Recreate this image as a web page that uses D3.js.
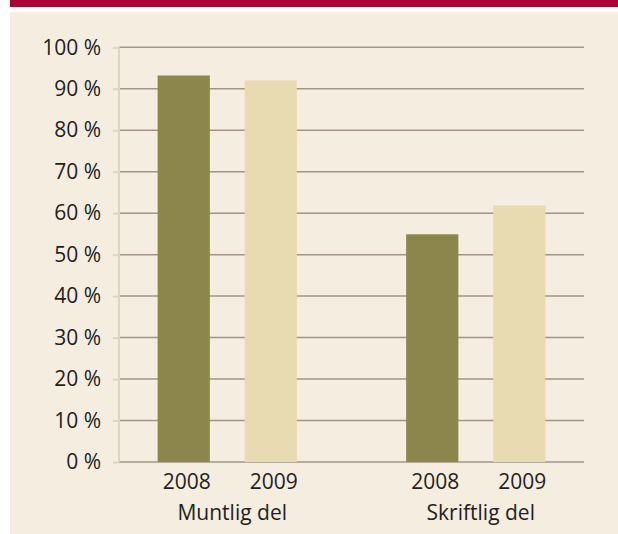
<!DOCTYPE html>
<html>
<head>
<meta charset="utf-8">
<script src="https://cdn.jsdelivr.net/npm/d3@7"></script>
<style>
  html, body { margin: 0; padding: 0; background: #ffffff; overflow: hidden; }
  svg { display: block; }
  text { font-family: "Open Sans", "Noto Sans", sans-serif; fill: #231f20; }
</style>
</head>
<body>
<svg id="chart"></svg>
<script>
// data
var categories = ["Muntlig del", "Skriftlig del"];
var years = ["2008", "2009"];
var values2008 = [93.2, 54.9];
var values2009 = [92.0, 61.9];
var yTicks = [0, 10, 20, 30, 40, 50, 60, 70, 80, 90, 100];

var width = 618, height = 534;
var colors = { "2008": "#8c864c", "2009": "#e8dab1" };

var svg = d3.select('#chart')
    .attr('width', width)
    .attr('height', height);

// red top band + beige panel
svg.append('rect').attr('x', 10).attr('y', 0).attr('width', width - 10).attr('height', 7).attr('fill', '#ab0033');
svg.append('rect').attr('x', 10).attr('y', 12).attr('width', width - 10).attr('height', height - 12).attr('fill', '#f4ede0');

var y = d3.scaleLinear().domain([0, 100]).range([462, 47.3]);

var x0 = d3.scaleBand().domain(categories).range([103, 600]);
var x1 = d3.scaleBand().domain(years)
    .range([-87, 87])
    .paddingInner(0.4)
    .paddingOuter(0.2);

var plotLeft = 119, plotRight = 584;

// gridlines
svg.append('g')
    .selectAll('line')
    .data(yTicks)
    .join('line')
    .attr('x1', plotLeft)
    .attr('x2', plotRight)
    .attr('y1', d => y(d))
    .attr('y2', d => y(d))
    .attr('stroke', '#a39485')
    .attr('stroke-width', 1.5);

// y axis
var yAxis = svg.append('g')
    .attr('transform', `translate(${plotLeft},0)`)
    .call(d3.axisLeft(y).tickValues(yTicks).tickSize(6).tickPadding(12).tickFormat(d => d + ' %'));
yAxis.select('.domain').attr('stroke', '#ddd5c0').attr('stroke-width', 2).attr('d', `M0,${y(100)}V${y(0)}`);
yAxis.selectAll('.tick line').attr('stroke', '#ddd5c0').attr('stroke-width', 2);
yAxis.selectAll('.tick text')
    .attr('font-size', 21)
    .attr('fill', '#231f20')
    .style('font-family', '"Open Sans", "Noto Sans", sans-serif');

// bars
var rows = [];
categories.forEach(function (c, i) {
    rows.push({ cat: c, year: "2008", value: values2008[i] });
    rows.push({ cat: c, year: "2009", value: values2009[i] });
});

function center(c) { return x0(c) + x0.bandwidth() / 2; }

svg.append('g')
    .selectAll('rect')
    .data(rows)
    .join('rect')
    .attr('x', d => center(d.cat) + x1(d.year))
    .attr('width', x1.bandwidth())
    .attr('y', d => y(d.value))
    .attr('height', d => y(0) - y(d.value))
    .attr('fill', d => colors[d.year]);

// year labels
svg.append('g')
    .selectAll('text')
    .data(rows)
    .join('text')
    .attr('x', d => center(d.cat) + x1(d.year) + x1.bandwidth() / 2 + 3)
    .attr('y', 489)
    .attr('text-anchor', 'middle')
    .attr('font-size', 21)
    .text(d => d.year);

// category labels
svg.append('g')
    .selectAll('text')
    .data(categories)
    .join('text')
    .attr('x', d => center(d) + 5)
    .attr('y', 520)
    .attr('text-anchor', 'middle')
    .attr('font-size', 21)
    .text(d => d);
</script>
</body>
</html>
